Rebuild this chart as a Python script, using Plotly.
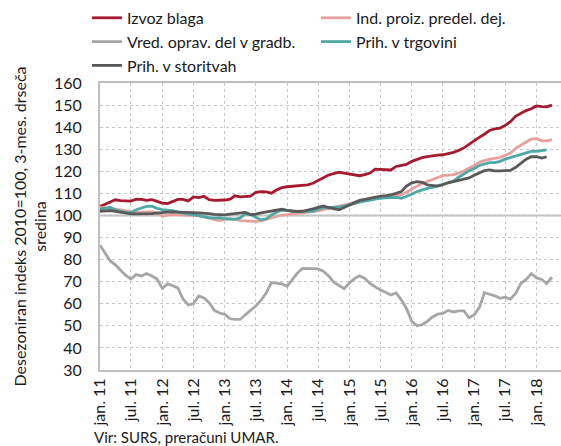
import pandas as pd
import plotly.graph_objects as go

months = pd.date_range("2011-01-01", periods=88, freq="MS")

izvoz_blaga = [
    104.1, 105.2, 106.3, 107.1, 106.7, 106.5, 106.5, 107.4, 107.3, 106.8, 107.2, 106.4,
    105.6, 105.4, 106.4, 107.3, 107.3, 106.6, 108.4, 108.1, 108.7, 107.2, 106.8, 106.8,
    107.0, 107.4, 108.9, 108.4, 108.4, 108.7, 110.5, 110.8, 110.7, 110.1, 111.6, 112.6,
    113.0, 113.2, 113.3, 113.6, 113.9, 114.6, 115.8, 117.0, 118.3, 119.0, 119.6, 119.2,
    118.7, 118.4, 118.0, 118.5, 119.2, 121.0, 120.8, 120.6, 120.6, 122.2, 122.6, 123.1,
    124.5, 125.4, 126.2, 126.7, 127.1, 127.3, 127.5, 128.0, 128.6, 129.4, 130.6, 132.2,
    134.0, 135.5, 136.8, 138.5, 139.2, 139.6, 140.8, 142.5, 145.0, 146.3, 147.5, 148.3,
    149.6, 149.3, 149.2, 150.0,
]

ind_proiz = [
    103.7, 103.5, 103.3, 102.9, 102.5, 102.0, 101.7, 101.5, 101.5, 101.8, 101.6, 101.3,
    99.6, 100.2, 100.5, 100.3, 100.2, 100.2, 100.0, 99.9, 99.4, 98.8, 98.0, 97.6,
    98.5, 98.5, 98.3, 97.7, 97.6, 97.2, 97.3, 97.5, 98.2, 98.8, 99.6, 100.2,
    100.4, 100.6, 100.8, 101.0, 101.3, 101.7, 102.1, 102.6, 103.1, 103.6, 104.1, 104.6,
    105.3, 106.0, 106.4, 106.8, 107.2, 107.7, 108.0, 108.3, 108.6, 109.0, 109.3, 110.5,
    112.0, 113.3, 114.5, 115.5, 116.3, 117.2, 118.0, 118.3, 118.5, 119.2, 120.1, 121.4,
    122.6, 124.2, 124.9, 125.5, 125.9, 126.3, 127.3, 128.3, 130.4, 132.0, 133.3, 134.6,
    134.8, 133.8, 133.8, 134.3,
]

gradbenistvo = [
    86.5, 83.0, 79.5, 77.6, 75.0, 72.8, 71.2, 73.2, 72.6, 73.7, 72.6, 71.2,
    67.0, 69.0, 68.2, 67.2, 62.2, 59.5, 60.0, 63.5, 62.6, 60.5, 57.0, 55.8,
    55.2, 53.2, 52.9, 52.9, 55.0, 57.0, 59.0, 61.5, 65.0, 69.6, 69.3, 69.0,
    67.9, 71.2, 73.8, 76.0, 76.0, 75.9, 75.8, 74.8, 72.6, 69.8, 68.2, 66.8,
    69.5, 71.5, 72.7, 71.5, 69.2, 67.6, 66.2, 65.2, 64.0, 64.9, 61.8, 57.9,
    52.0, 50.0, 50.5, 52.0, 54.0, 55.3, 55.6, 57.0, 56.3, 56.8, 56.8, 53.7,
    55.0, 58.5, 65.0, 64.3, 63.6, 62.5, 63.0, 62.1, 64.8, 69.2, 71.0, 73.6,
    71.7, 71.0, 69.2, 72.0,
]

trgovina = [
    102.9, 103.3, 103.7, 102.6, 101.8, 101.4, 101.2, 102.6, 103.5, 104.1, 104.2, 103.2,
    102.6, 102.4, 102.2, 101.5, 100.9, 100.6, 100.3, 100.0, 99.5, 99.0, 98.8, 99.0,
    98.5, 98.4, 98.2, 98.9, 100.7, 100.4, 99.3, 98.0, 98.5, 100.2, 101.5, 102.4,
    102.3, 101.8, 101.8, 101.8, 101.8, 101.9, 102.8, 103.6, 103.7, 103.7, 103.9, 104.2,
    104.9, 105.6, 106.0, 106.5, 107.0, 107.5, 107.8, 108.0, 108.1, 108.2, 107.8, 108.6,
    109.6, 110.8, 111.6, 112.3, 112.7, 113.4, 114.0, 114.8, 115.6, 117.3, 118.8, 120.2,
    121.3, 122.7, 123.3, 123.9, 123.9, 124.5, 125.5, 126.2, 127.0, 127.8, 128.6, 129.0,
    129.0, 129.2, 129.7,
]

storitve = [
    101.9, 102.0, 102.2, 101.9, 101.4, 101.0, 100.7, 100.7, 100.7, 100.8, 100.8, 101.1,
    101.4, 101.5, 101.6, 101.6, 101.5, 101.4, 101.3, 101.2, 101.1, 100.8, 100.5, 100.3,
    100.3, 100.6, 100.8, 101.2, 101.4, 100.4, 100.6, 101.2, 101.6, 102.2, 102.5, 102.8,
    102.3, 101.9, 101.8, 101.9, 102.3, 103.0, 103.7, 104.3, 103.5, 103.0, 102.6, 103.6,
    104.7, 105.9, 106.8, 107.3, 107.8, 108.4, 108.8, 109.0, 109.3, 110.0, 110.8, 113.3,
    114.8, 115.3, 115.0, 113.9, 113.6, 113.3, 113.9, 114.8, 115.3, 115.8, 116.2, 117.0,
    118.2, 119.3, 120.3, 120.6, 120.2, 120.2, 120.2, 120.4, 121.8, 123.8, 125.5, 126.6,
    126.6, 126.0, 126.6,
]

tick_dates = [f"{y}-{m:02d}-01" for y in range(2011, 2019) for m in (1, 7)][:-1]
tick_labels = ["jan. 11", "jul. 11", "jan. 12", "jul. 12", "jan. 13", "jul. 13", "jan. 14", "jul. 14",
               "jan. 15", "jul. 15", "jan. 16", "jul. 16", "jan. 17", "jul. 17", "jan. 18"]

series = [
    ("Izvoz blaga", izvoz_blaga, "#a6192e"),
    ("Ind. proiz. predel. dej.", ind_proiz, "#e6a19e"),
    ("Vred. oprav. del v gradb.", gradbenistvo, "#a6a6a6"),
    ("Prih. v trgovini", trgovina, "#4fa8a3"),
    ("Prih. v storitvah", storitve, "#595959"),
]

FONT = "Lato"
TXT = "#1a1a1a"
fig = go.Figure()
for name, vals, color in series:
    fig.add_trace(go.Scatter(
        x=months[:len(vals)], y=vals, name=name, mode="lines",
        line=dict(color=color, width=2.8),
    ))

fig.add_shape(type="line", xref="paper", x0=0, x1=1, yref="y", y0=100, y1=100,
              line=dict(color="#bfbfbf", width=2), layer="below")

fig.update_layout(
    width=561, height=446,
    margin=dict(l=100, r=0, t=83, b=76, autoexpand=False),
    paper_bgcolor="white", plot_bgcolor="white",
    font=dict(family=FONT, size=16, color=TXT),
    showlegend=True,
    legend=dict(
        orientation="h", xref="container", yref="container",
        x=0.155, y=0.998, xanchor="left", yanchor="top",
        entrywidth=184, entrywidthmode="pixels",
        tracegroupgap=0, itemwidth=30,
        font=dict(family=FONT, size=16, color=TXT),
        bgcolor="rgba(0,0,0,0)",
    ),
    xaxis=dict(
        type="date", range=["2011-01-01", "2018-05-24"],
        tickmode="array", tickvals=tick_dates, ticktext=tick_labels,
        tickangle=-90, showgrid=True, gridcolor="#c8c8c8", griddash="dot", gridwidth=1,
        showline=True, linecolor="#bfbfbf", linewidth=2, mirror=True,
        ticks="", tickfont=dict(family=FONT, size=16, color=TXT), automargin=False,
    ),
    yaxis=dict(
        range=[30, 160], dtick=10, tick0=30,
        showgrid=True, gridcolor="#c8c8c8", griddash="dot", gridwidth=1,
        showline=True, linecolor="#bfbfbf", linewidth=2, mirror=True,
        ticks="", zeroline=False, tickfont=dict(family=FONT, size=16, color=TXT),
        ticklabelstandoff=13, automargin=False,
        title=dict(text="Desezoniran indeks 2010=100, 3-mes. drseča<br>sredina",
                   font=dict(family=FONT, size=16, color=TXT), standoff=3),
    ),
    annotations=[dict(
        text="Vir: SURS, preračuni UMAR.", xref="paper", yref="paper",
        x=-0.018, y=-0.233, xanchor="left", yanchor="middle", showarrow=False,
        font=dict(family=FONT, size=15, color=TXT),
    )],
)

fig.write_html("out.html", config={"displayModeBar": False},
               post_script="document.body.style.margin='0';")
